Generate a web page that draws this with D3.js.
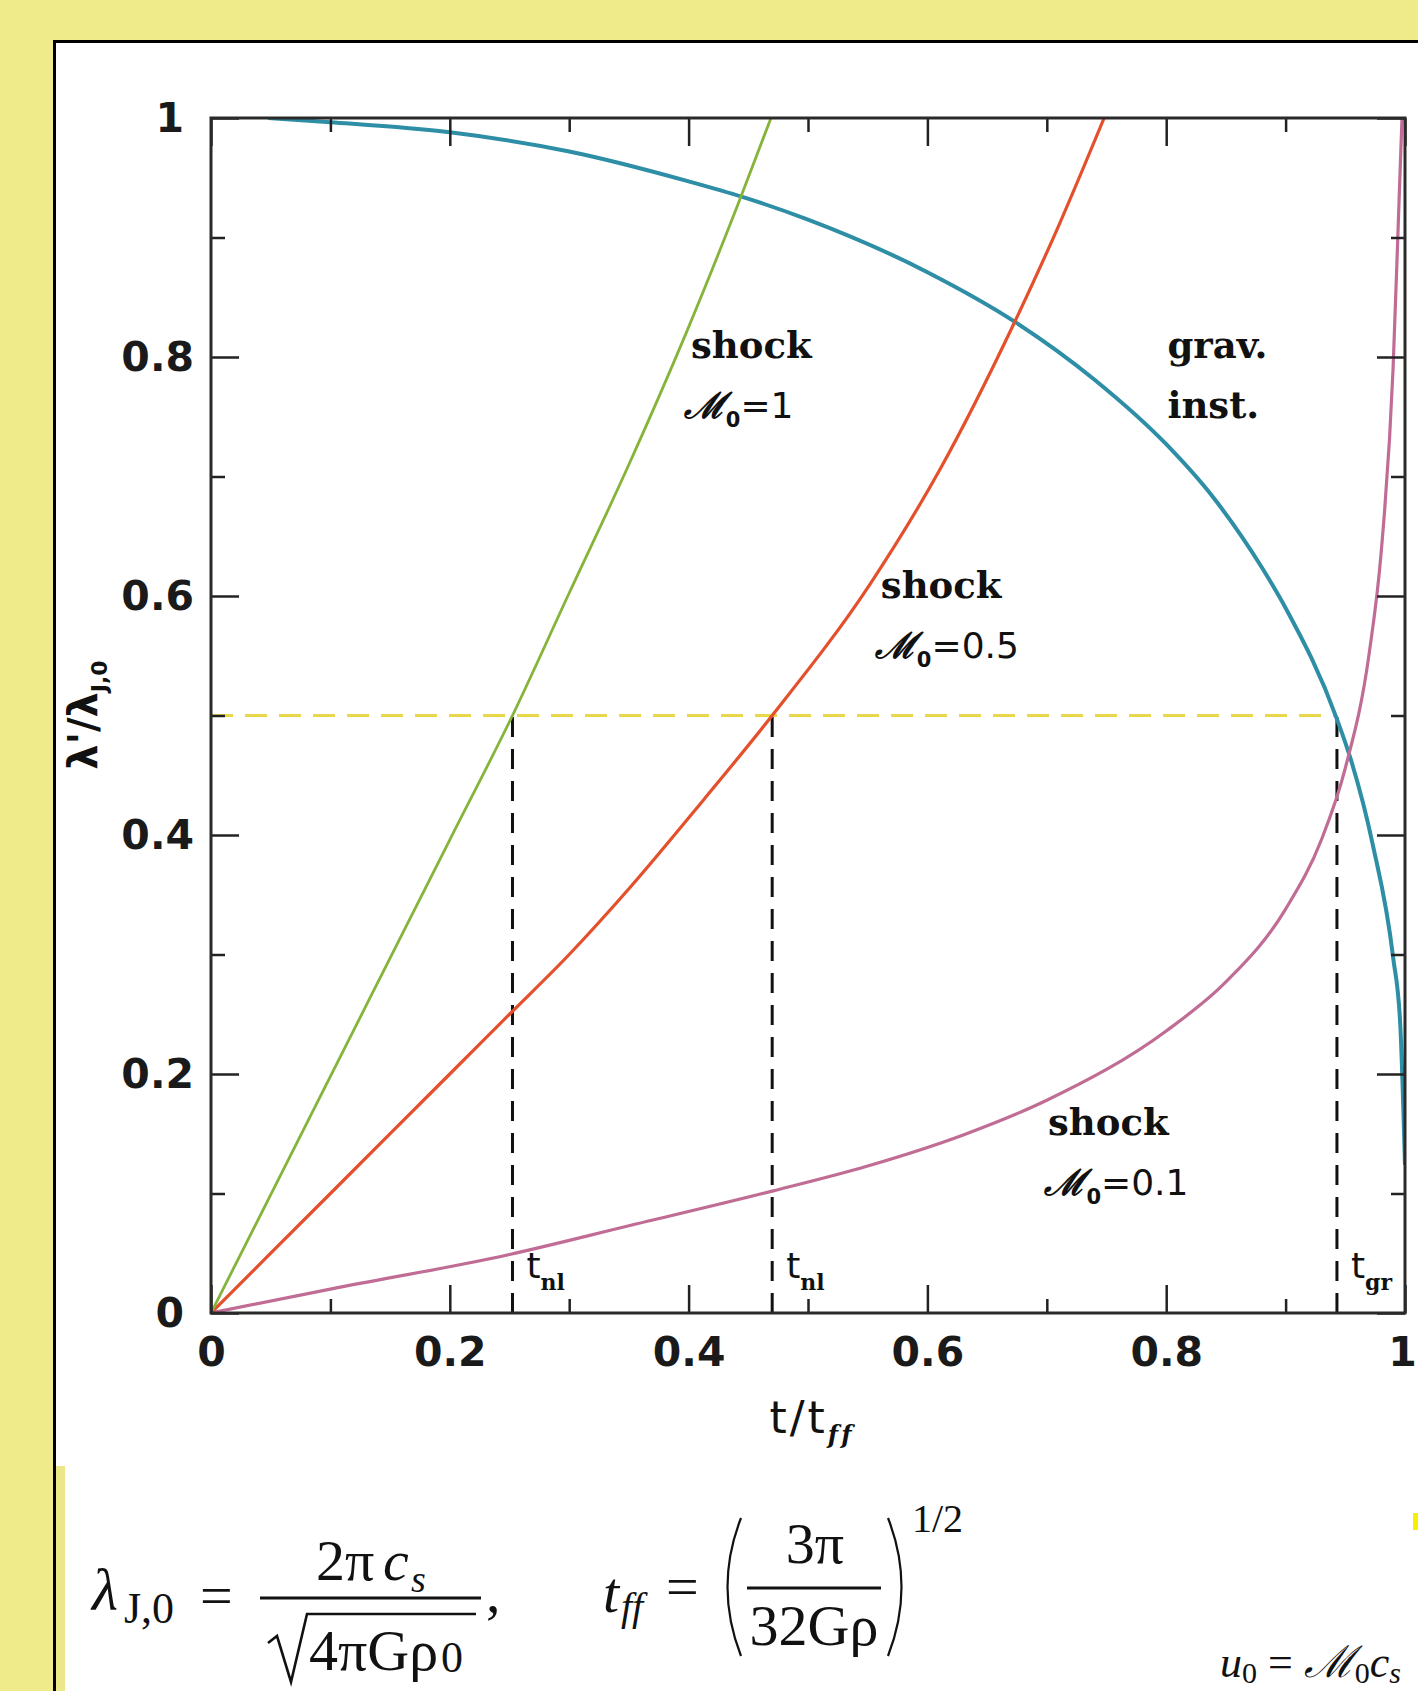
<!DOCTYPE html>
<html>
<head>
<meta charset="utf-8">
<script src="https://cdn.jsdelivr.net/npm/d3@7"></script>
<style>
  body { margin: 0; background: #efea8a; }
  svg { display: block; }
</style>
</head>
<body>
<svg id="chart"></svg>
<script>
const width = 1418;
const height = 1691;

// values (t/t_ff, lambda'/lambda_J,0)
const shock1T = [0, 0.1, 0.2, 0.2525, 0.3, 0.35, 0.4, 0.443, 0.469];
const shock1V = [0, 0.198, 0.396, 0.5, 0.6025, 0.71, 0.825, 0.932, 1.0];

const shock05T = [0, 0.1, 0.2, 0.25, 0.3, 0.35, 0.413, 0.47, 0.552, 0.61, 0.672, 0.71, 0.748];
const shock05V = [0, 0.1, 0.2, 0.25, 0.3, 0.355, 0.43, 0.5, 0.61, 0.705, 0.827, 0.91, 1.0];

const shock01T = [0, 0.1, 0.25, 0.35, 0.47, 0.55, 0.63, 0.7, 0.8, 0.85, 0.9, 0.93, 0.95, 0.97, 0.98, 0.99, 0.995, 0.9975];
const shock01V = [0, 0.02, 0.049, 0.073, 0.102, 0.123, 0.149, 0.178, 0.236, 0.277, 0.338, 0.396, 0.456, 0.552, 0.636, 0.79, 0.93, 1.0];

const gravT = [0.048, 0.1, 0.2, 0.3, 0.4, 0.445, 0.5, 0.6, 0.674, 0.74, 0.8, 0.839, 0.88, 0.9, 0.943, 0.955, 0.973, 0.99, 0.996, 1.0];
const gravV = [1.0, 0.9965, 0.988, 0.972, 0.947, 0.934, 0.915, 0.871, 0.829, 0.781, 0.727, 0.683, 0.624, 0.59, 0.497, 0.462, 0.392, 0.298, 0.242, 0.124];

const majorTicks = [0, 0.2, 0.4, 0.6, 0.8, 1];
const minorTicks = [0.1, 0.3, 0.5, 0.7, 0.9];
const tickLabels = ["0", "0.2", "0.4", "0.6", "0.8", "1"];

const halfLevel = 0.5;
const markerT = [0.2525, 0.47, 0.943];
const markerSub = ["nl", "nl", "gr"];
const machValues = ["1", "0.5", "0.1"];

const svg = d3.select("#chart").attr("width", width).attr("height", height);

// slide background, black frame and white panel
svg.append("rect").attr("width", width).attr("height", height).attr("fill", "#efea8a");
svg.append("rect").attr("x", 55).attr("y", 42).attr("width", width - 55).attr("height", height - 42).attr("fill", "#fff");
svg.append("rect").attr("x", 56).attr("y", 1466).attr("width", 9).attr("height", height - 1466).attr("fill", "#ece88a");
svg.append("path")
  .attr("d", `M54.5,${height}V41.5H${width}`)
  .attr("fill", "none").attr("stroke", "#000").attr("stroke-width", 3);
svg.append("rect").attr("x", 1413).attr("y", 1513).attr("width", 5).attr("height", 17).attr("fill", "#f5f000");

const x = d3.scaleLinear().domain([0, 1]).range([211, 1405]);
const y = d3.scaleLinear().domain([0, 1]).range([1313, 118]);

svg.append("clipPath").attr("id", "plot-clip")
  .append("rect").attr("x", 211).attr("y", 118).attr("width", 1194).attr("height", 1195);

const plot = svg.append("g").attr("clip-path", "url(#plot-clip)");

// dashed guides
plot.append("line")
  .attr("x1", x(0)).attr("x2", x(markerT[2]))
  .attr("y1", y(halfLevel)).attr("y2", y(halfLevel))
  .attr("stroke", "#e9d84a").attr("stroke-width", 3).attr("stroke-dasharray", "22,12");

plot.selectAll(".marker")
  .data(markerT)
  .enter()
  .append("line")
  .attr("class", "marker")
  .attr("x1", (d) => x(d)).attr("x2", (d) => x(d))
  .attr("y1", y(0)).attr("y2", y(halfLevel))
  .attr("stroke", "#111").attr("stroke-width", 3).attr("stroke-dasharray", "20,12");

const series = [
  { t: gravT, v: gravV, color: "#2d8ea6", w: 4 },
  { t: shock01T, v: shock01V, color: "#c06c94", w: 3.2 },
  { t: shock05T, v: shock05V, color: "#e4502c", w: 3.2 },
  { t: shock1T, v: shock1V, color: "#86b43a", w: 2.8 },
];

const line = d3.line()
  .x((d) => x(d[0]))
  .y((d) => y(d[1]))
  .curve(d3.curveMonotoneX);

plot.selectAll(".curve")
  .data(series)
  .enter()
  .append("path")
  .attr("class", "curve")
  .attr("d", (s) => line(s.t.map((t, i) => [t, s.v[i]])))
  .attr("fill", "none")
  .attr("stroke", (s) => s.color)
  .attr("stroke-width", (s) => s.w)
  .attr("stroke-linejoin", "round");

// axes with inward ticks on all four sides
function styleAxis(g) {
  g.select(".domain").remove();
  g.selectAll(".tick line").attr("stroke", "#222").attr("stroke-width", 2.5);
  g.selectAll(".tick text")
    .attr("fill", "#1a1a1a")
    .style("font-family", "DejaVu Sans")
    .style("font-weight", "bold")
    .style("font-size", "41px");
}

const axes = [
  { make: () => d3.axisBottom(x), at: `translate(0,${y(0)})`, label: true, pad: 24, nudge: (d) => (d === 1 ? -3 : 0) },
  { make: () => d3.axisLeft(y), at: `translate(${x(0)},0)`, label: true, pad: 17, nudge: (d) => (d === 0 || d === 1 ? -10 : 0) },
  { make: () => d3.axisTop(x), at: `translate(0,${y(1)})`, label: false, pad: 0 },
  { make: () => d3.axisRight(y), at: `translate(${x(1)},0)`, label: false, pad: 0 },
];

axes.forEach((a) => {
  const major = a.make().tickValues(majorTicks).tickSize(-28).tickSizeOuter(0)
    .tickPadding(a.pad)
    .tickFormat((d, i) => (a.label ? tickLabels[i] : ""));
  const g = svg.append("g").attr("transform", a.at).call(major).call(styleAxis);
  if (a.nudge) g.selectAll(".tick text").attr("dx", a.nudge);
  const minor = a.make().tickValues(minorTicks).tickSize(-14).tickSizeOuter(0).tickFormat(() => "");
  svg.append("g").attr("transform", a.at).call(minor).call(styleAxis);
});

svg.append("rect")
  .attr("x", x(0)).attr("y", y(1))
  .attr("width", x(1) - x(0)).attr("height", y(0) - y(1))
  .attr("fill", "none").attr("stroke", "#2a2a2a").attr("stroke-width", 3);

// curve labels
const serifBold = (sel) => sel.style("font-family", "DejaVu Serif").style("font-weight", "bold");

function wordLabel(t, v, str) {
  svg.append("text").attr("x", x(t)).attr("y", y(v))
    .attr("fill", "#111").style("font-size", "37px").call(serifBold).text(str);
}

function machLabel(t, v, val) {
  const txt = svg.append("text").attr("x", x(t)).attr("y", y(v))
    .attr("fill", "#111").style("font-family", "DejaVu Sans").style("font-size", "36px");
  txt.append("tspan").style("font-family", "DejaVu Serif").style("font-style", "italic")
    .style("font-weight", "bold").text("ℳ");
  txt.append("tspan").attr("dy", 9).style("font-size", "21px").style("font-weight", "bold").text("0");
  txt.append("tspan").attr("dy", -9).text("=" + val);
}

wordLabel(0.402, 0.799, "shock");
machLabel(0.396, 0.749, machValues[0]);
wordLabel(0.561, 0.598, "shock");
machLabel(0.556, 0.548, machValues[1]);
wordLabel(0.701, 0.149, "shock");
machLabel(0.698, 0.099, machValues[2]);
wordLabel(0.801, 0.799, "grav.");
wordLabel(0.801, 0.749, "inst.");

markerT.forEach((t, i) => {
  const txt = svg.append("text").attr("x", x(t) + 14).attr("y", y(0.029))
    .attr("fill", "#111").style("font-family", "DejaVu Sans").style("font-size", "36px");
  txt.append("tspan").text("t");
  txt.append("tspan").attr("dy", 12).style("font-size", "22px").call(serifBold).text(markerSub[i]);
});

// axis titles
const xTitle = svg.append("text").attr("x", 812).attr("y", 1433).attr("text-anchor", "middle")
  .attr("fill", "#111").style("font-family", "DejaVu Sans").style("font-size", "44px")
  .style("letter-spacing", "3px");
xTitle.append("tspan").text("t/t");
xTitle.append("tspan").attr("dy", 10).style("font-size", "24px").style("font-style", "italic")
  .call(serifBold).text("ff");

const yTitle = svg.append("text").attr("transform", "translate(97,715) rotate(-90)")
  .attr("text-anchor", "middle").attr("fill", "#111")
  .style("font-family", "DejaVu Sans").style("font-weight", "bold").style("font-size", "40px");
yTitle.append("tspan").text("λ'/λ");
yTitle.append("tspan").attr("dy", 10).style("font-size", "22px").text("J,0");

// formulas under the plot
const f = svg.append("g").attr("fill", "#111").style("font-family", "Liberation Serif");

function ftext(px, py, size, str, italic, anchor) {
  return f.append("text").attr("x", px).attr("y", py)
    .attr("text-anchor", anchor || "start")
    .style("font-size", size + "px")
    .style("font-style", italic ? "italic" : "normal")
    .text(str);
}

ftext(92, 1610, 60, "λ", true);
ftext(124, 1623, 44, "J,0", false);
ftext(200, 1615, 58, "=", false);
ftext(316, 1580, 58, "2π", false);
ftext(383, 1580, 58, "c", true);
ftext(411, 1592, 38, "s", true);
f.append("line").attr("x1", 260).attr("x2", 481).attr("y1", 1598).attr("y2", 1598)
  .attr("stroke", "#111").attr("stroke-width", 3);
f.append("path").attr("d", "M268,1643L277,1636L291,1682L307,1614H476")
  .attr("fill", "none").attr("stroke", "#111").attr("stroke-width", 2.6);
ftext(309, 1670, 58, "4πGρ", false);
ftext(441, 1672, 44, "0", false);
ftext(486, 1612, 58, ",", false);

ftext(603, 1612, 58, "t", true);
ftext(621, 1620, 40, "ff", true);
ftext(666, 1606, 58, "=", false);
f.append("path").attr("d", "M741,1518Q714,1587 741,1656")
  .attr("fill", "none").attr("stroke", "#111").attr("stroke-width", 2.2);
f.append("path").attr("d", "M888,1518Q915,1587 888,1656")
  .attr("fill", "none").attr("stroke", "#111").attr("stroke-width", 2.2);
ftext(815, 1563, 58, "3π", false, "middle");
f.append("line").attr("x1", 747).attr("x2", 881).attr("y1", 1588).attr("y2", 1588)
  .attr("stroke", "#111").attr("stroke-width", 3);
ftext(814, 1645, 58, "32Gρ", false, "middle");
ftext(912, 1532, 40, "1/2", false);

const u0 = f.append("text").attr("x", 1220).attr("y", 1677).style("font-size", "44px");
u0.append("tspan").style("font-style", "italic").text("u");
u0.append("tspan").attr("dy", 6).style("font-size", "30px").text("0");
u0.append("tspan").attr("dy", -6).text(" = ");
u0.append("tspan").style("font-style", "italic").text("ℳ");
u0.append("tspan").attr("dy", 6).style("font-size", "30px").text("0");
u0.append("tspan").attr("dy", -6).style("font-style", "italic").text("c");
u0.append("tspan").attr("dy", 6).style("font-size", "30px").style("font-style", "italic").text("s");
</script>
</body>
</html>
